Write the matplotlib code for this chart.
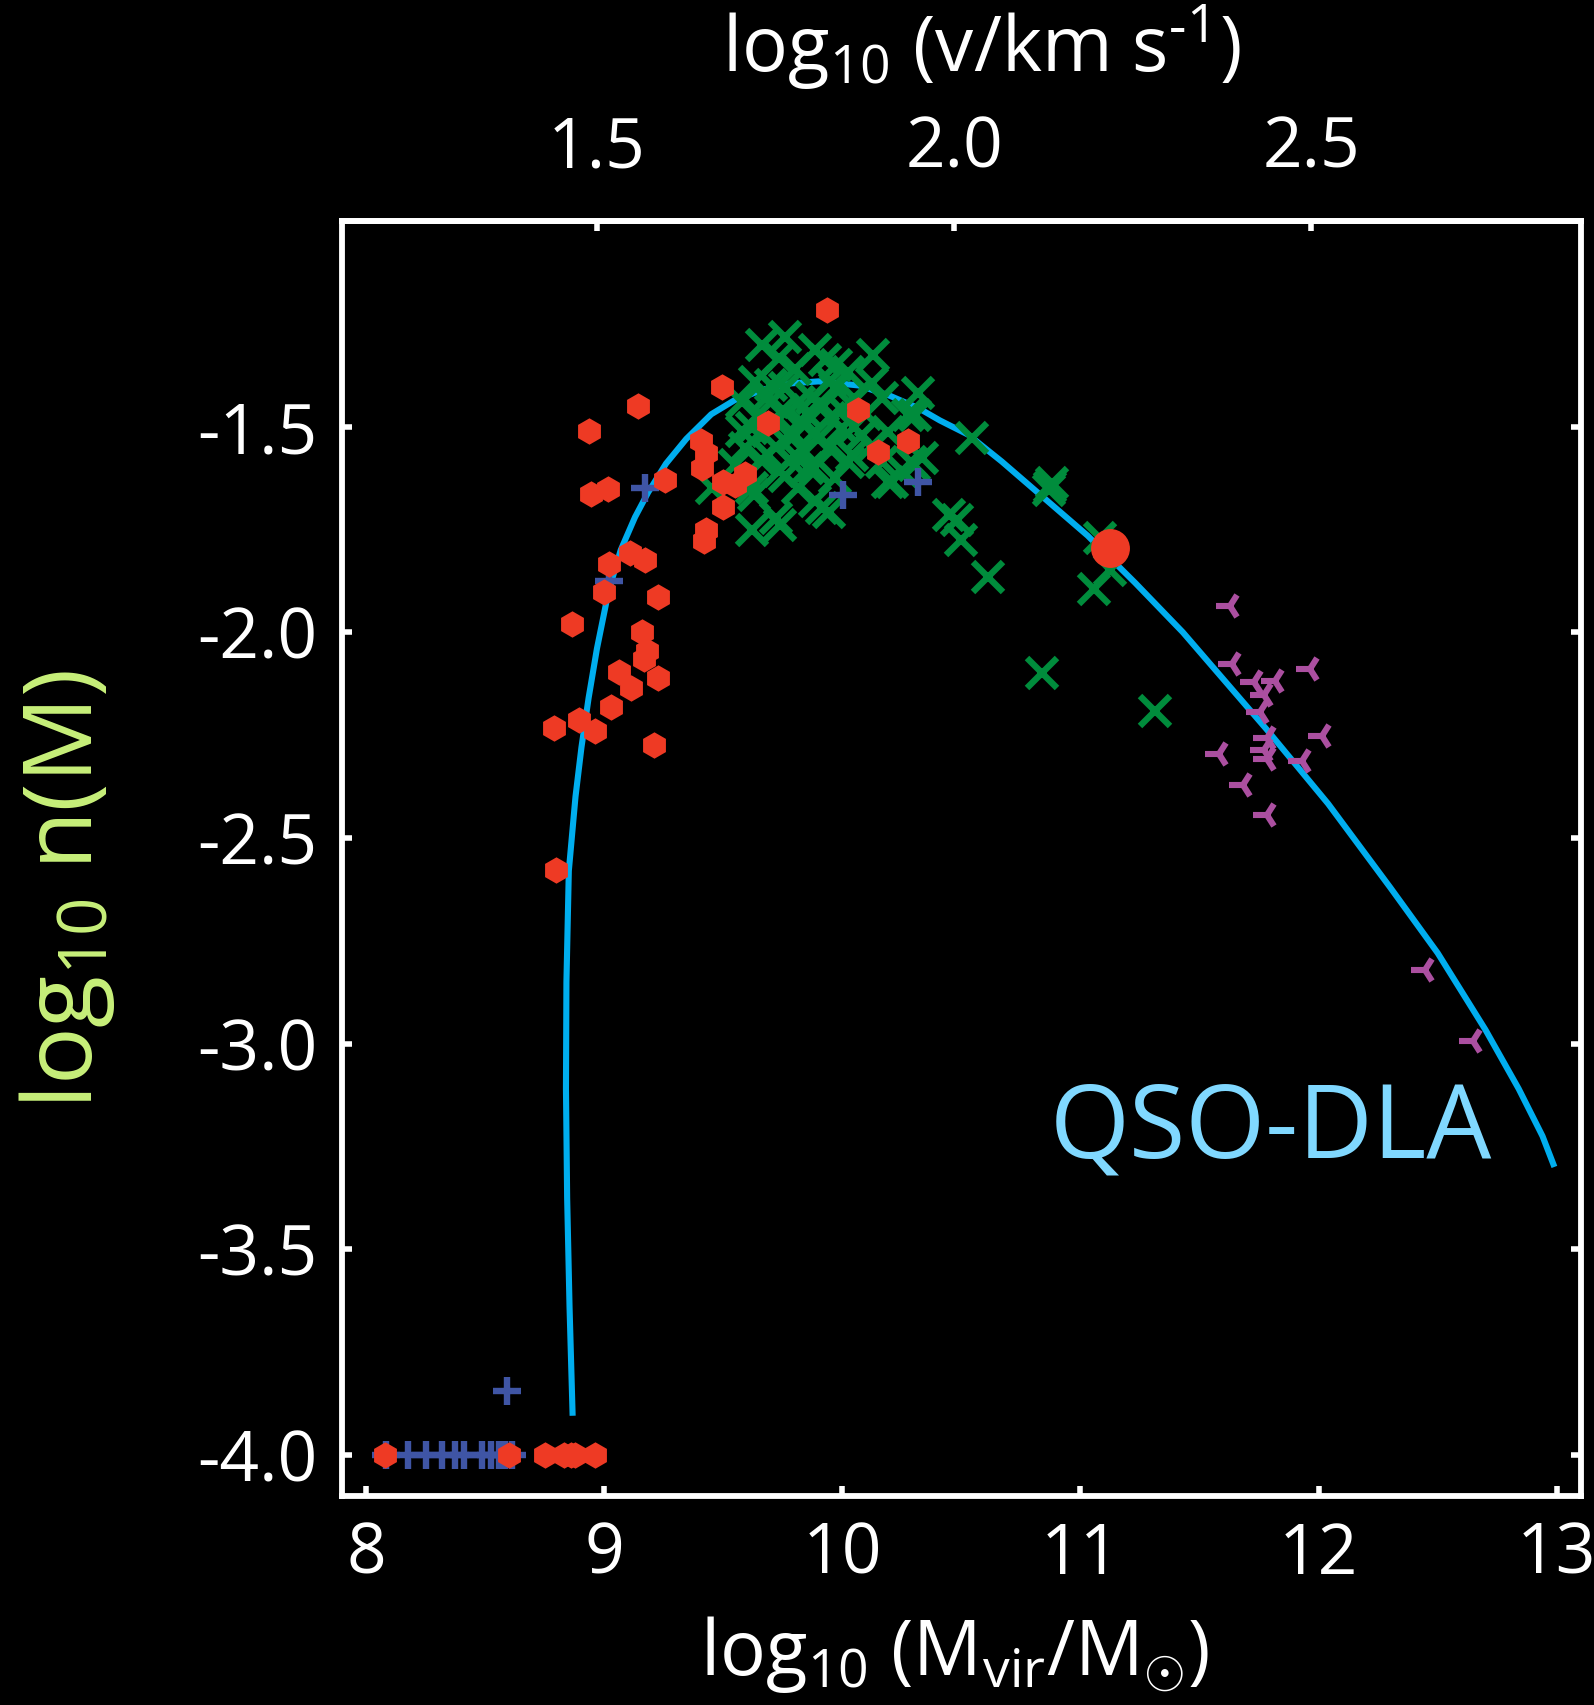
import matplotlib
matplotlib.use("Agg")
import matplotlib.pyplot as plt

plt.rcParams['font.family'] = ['Open Sans', 'DejaVu Sans']
plt.rcParams['mathtext.fontset'] = 'custom'
plt.rcParams['mathtext.rm'] = 'Open Sans'
plt.rcParams['mathtext.it'] = 'Open Sans:italic'
plt.rcParams['mathtext.bf'] = 'Open Sans:bold'
plt.rcParams['axes.unicode_minus'] = False

# ---- model curve: log10 n(M) for QSO-DLA hosts ----
curve_mass = [8.868, 8.855, 8.845, 8.840, 8.842, 8.852, 8.880, 8.905, 8.935, 8.970,
              9.019, 9.070, 9.130, 9.185, 9.260, 9.345, 9.450, 9.550, 9.670, 9.780,
              9.900, 10.070, 10.200, 10.320, 10.410, 10.530, 10.670, 10.810, 11.030,
              11.230, 11.430, 11.780, 12.040, 12.300, 12.500, 12.700, 12.840,
              12.940, 12.990]
curve_logn = [-3.905, -3.640, -3.376, -3.110, -2.850, -2.580, -2.400, -2.280, -2.160, -2.040,
              -1.900, -1.800, -1.720, -1.660, -1.590, -1.530, -1.470, -1.435, -1.410, -1.395,
              -1.390, -1.400, -1.425, -1.455, -1.485, -1.520, -1.585, -1.655, -1.765,
              -1.880, -2.000, -2.235, -2.417, -2.620, -2.780, -2.966, -3.110,
              -3.225, -3.300]

# ---- red hexagons ----
red_mass = [8.08, 8.60, 8.75, 8.83, 8.86, 8.88, 8.96,
            9.142, 8.935, 8.946, 9.016, 9.257, 9.406, 9.430, 9.410, 9.495, 9.500,
            9.550, 9.592, 9.500, 9.430, 9.418, 9.110, 9.170, 9.021, 8.998, 9.225,
            8.865, 9.159, 9.180, 9.166, 9.061, 9.225, 9.112, 9.030, 8.788, 8.895,
            8.963, 9.210, 8.800, 9.935, 9.690, 10.068, 10.278, 10.150]
red_logn = [-4.0, -4.0, -4.0, -4.0, -4.0, -4.0, -4.0,
            -1.451, -1.510, -1.664, -1.652, -1.631, -1.536, -1.565, -1.600, -1.403, -1.634,
            -1.642, -1.614, -1.695, -1.751, -1.778, -1.808, -1.824, -1.833, -1.903, -1.914,
            -1.981, -2.000, -2.046, -2.064, -2.096, -2.111, -2.135, -2.181, -2.234, -2.214,
            -2.240, -2.275, -2.577, -1.216, -1.490, -1.460, -1.536, -1.561]

# ---- highlighted object ----
big_mass = [11.125]
big_logn = [-1.794]

# ---- green crosses ----
green_mass = [9.662, 9.760, 9.733, 9.886, 9.928, 10.131, 10.026, 9.634, 9.578, 9.760,
              9.872, 9.970, 10.124, 10.166, 10.320, 10.278, 9.620, 9.830, 9.775, 9.886,
              9.943, 9.998, 10.082, 10.194, 9.592, 9.690, 9.800, 9.550, 9.733, 9.858,
              10.026, 10.166, 10.250, 10.194, 9.620, 9.816, 9.970, 9.914, 9.720, 10.290,
              9.453, 9.628, 9.620, 9.740, 9.943, 9.886, 10.210, 10.334, 9.972, 10.306,
              10.544, 10.873, 10.866, 10.880, 10.481, 10.500, 10.611, 11.083, 11.125,
              11.059, 10.838, 11.314, 10.300, 10.450,
              9.650, 9.700, 9.750, 9.800, 9.850, 9.900, 9.950, 9.720, 9.780, 9.840,
              9.680, 9.820, 9.920, 10.000, 10.050, 9.880, 9.760, 9.660, 9.700, 9.800,
              9.950, 10.050, 10.100, 10.120, 10.040, 9.580, 9.600]
green_logn = [-1.301, -1.281, -1.334, -1.313, -1.338, -1.326, -1.366, -1.391, -1.439, -1.407,
              -1.431, -1.407, -1.395, -1.431, -1.419, -1.472, -1.504, -1.488, -1.520, -1.512,
              -1.553, -1.504, -1.520, -1.512, -1.553, -1.569, -1.569, -1.593, -1.609, -1.601,
              -1.585, -1.585, -1.609, -1.634, -1.650, -1.650, -1.626, -1.699, -1.723, -1.585,
              -1.650, -1.666, -1.751, -1.739, -1.707, -1.682, -1.634, -1.577, -1.350, -1.472,
              -1.527, -1.646, -1.654, -1.638, -1.727, -1.776, -1.865, -1.772, -1.848,
              -1.895, -2.100, -2.192, -1.593, -1.715,
              -1.470, -1.500, -1.460, -1.520, -1.470, -1.530, -1.480, -1.550, -1.580, -1.560,
              -1.430, -1.440, -1.450, -1.460, -1.500, -1.600, -1.620, -1.580, -1.400, -1.360,
              -1.390, -1.430, -1.470, -1.550, -1.570, -1.510, -1.620]

# ---- blue pluses ----
blue_mass = [8.084, 8.176, 8.252, 8.319, 8.375, 8.410, 8.487, 8.526, 8.557, 8.585, 8.613,
             8.594, 9.173, 9.021, 10.005, 10.320]
blue_logn = [-4.0, -4.0, -4.0, -4.0, -4.0, -4.0, -4.0, -4.0, -4.0, -4.0, -4.0,
             -3.844, -1.650, -1.875, -1.666, -1.634]

# ---- purple tri markers ----
purple_mass = [11.629, 11.636, 11.965, 11.727, 11.817, 11.769, 11.755, 12.014, 11.783,
               11.769, 11.783, 11.580, 11.930, 11.682, 11.783, 12.447, 12.650]
purple_logn = [-1.936, -2.078, -2.089, -2.120, -2.119, -2.153, -2.193, -2.252, -2.258,
               -2.287, -2.307, -2.295, -2.313, -2.372, -2.445, -2.822, -2.995]

x_ticks = [8, 9, 10, 11, 12, 13]
x_ticklabels = ['8', '9', '10', '11', '12', '13']
y_ticks = [-1.5, -2.0, -2.5, -3.0, -3.5, -4.0]
y_ticklabels = ['-1.5', '-2.0', '-2.5', '-3.0', '-3.5', '-4.0']
v_ticks = [1.5, 2.0, 2.5]
v_ticklabels = ['1.5', '2.0', '2.5']

RED = '#ee3a24'
GREEN = '#008c3c'
BLUE = '#3f55a5'
PURPLE = '#ab4fa0'
CYAN = '#00aeef'

fig = plt.figure(figsize=(15.94, 17.05), dpi=100, facecolor='black')
ax = fig.add_axes([0.2146, 0.1226, 0.7770, 0.7478])
ax.set_facecolor('black')

ax.plot(curve_mass, curve_logn, color=CYAN, lw=4.4, zorder=2,
        solid_capstyle='butt', solid_joinstyle='round')
ax.plot(green_mass, green_logn, ls='none', marker='x', ms=22, mew=4.6,
        color=GREEN, zorder=3)
ax.plot(blue_mass, blue_logn, ls='none', marker='+', ms=20, mew=4.6,
        color=BLUE, zorder=4)
ax.plot(red_mass, red_logn, ls='none', marker='h', ms=19, mew=0,
        color=RED, zorder=5)
ax.plot(big_mass, big_logn, ls='none', marker='o', ms=28, mew=0,
        color=RED, zorder=6)
ax.plot(purple_mass, purple_logn, ls='none', marker='3', ms=20, mew=4.4,
        color=PURPLE, zorder=6)

ax.set_xlim(7.9, 13.1)
ax.set_ylim(-4.1, -1.0)

for s in ax.spines.values():
    s.set_color('white')
    s.set_linewidth(4.2)

ax.set_xticks(x_ticks)
ax.set_xticklabels(x_ticklabels)
ax.set_yticks(y_ticks)
ax.set_yticklabels(y_ticklabels)
ax.tick_params(axis='both', which='major', direction='in', length=7, width=4,
               color='white', labelcolor='white', labelsize=50, pad=18)
ax.tick_params(axis='y', right=True, left=True)
ax.tick_params(axis='x', top=False, bottom=True)


def mass_to_vel(m):
    return (m - 4.47) / 3.0


def vel_to_mass(v):
    return 3.0 * v + 4.47


sec = ax.secondary_xaxis('top', functions=(mass_to_vel, vel_to_mass))
sec.set_xticks(v_ticks)
sec.set_xticklabels(v_ticklabels)
sec.tick_params(axis='x', direction='in', length=7, width=4, color='white',
                labelcolor='white', labelsize=50, pad=26)
for s in sec.spines.values():
    s.set_color('white')
    s.set_linewidth(4.2)

ax.text(11.80, -3.276, 'QSO-DLA', color='#80d8ff', fontsize=74,
        ha='center', va='baseline', zorder=7)

fig.text(0.599, 0.0176, r'log$_{10}$ (M$_{\mathregular{vir}}$/M$_{\odot}$)',
         color='white', fontsize=55, ha='center', va='baseline')
fig.text(0.6154, 0.9578, 'log$_{10}$ (v/km s$^{\\mathregular{\u20101}}$)',
         color='white', fontsize=55, ha='center', va='baseline')
fig.text(0.042, 0.478, r'log$_{10}$ n(M)', color='#c8f07a', fontsize=69,
         rotation=90, ha='center', va='center')

fig.savefig('out.png', dpi=100, facecolor='black')
